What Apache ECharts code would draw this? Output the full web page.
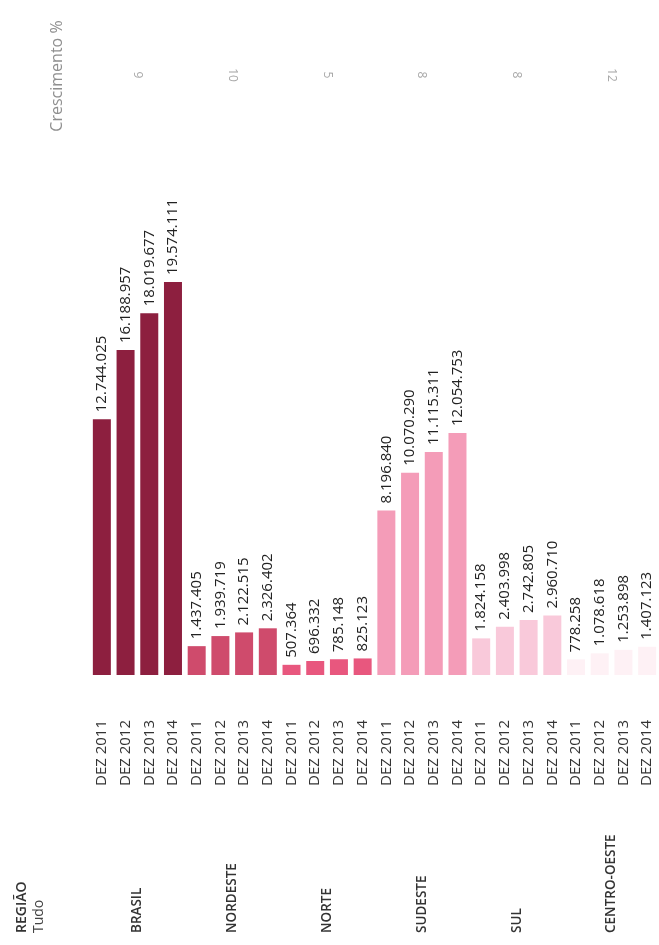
<!DOCTYPE html>
<html>
<head>
<meta charset="utf-8">
<style>
  html, body { margin: 0; padding: 0; background: #ffffff; }
  #chart { width: 659px; height: 945px; }
</style>
<script src="https://cdn.jsdelivr.net/npm/echarts@6/dist/echarts.min.js"></script>
</head>
<body>
<div id="chart"></div>
<script>
// Regiões, períodos e crescimento percentual
const regioes = ['BRASIL', 'NORDESTE', 'NORTE', 'SUDESTE', 'SUL', 'CENTRO-OESTE'];
const periodos = ['DEZ 2011', 'DEZ 2012', 'DEZ 2013', 'DEZ 2014'];
const crescimento = ['9', '10', '5', '8', '8', '12'];

// Valores por região (DEZ 2011 a DEZ 2014)
const brasil      = [12744025, 16188957, 18019677, 19574111];
const nordeste    = [1437405, 1939719, 2122515, 2326402];
const norte       = [507364, 696332, 785148, 825123];
const sudeste     = [8196840, 10070290, 11115311, 12054753];
const sul         = [1824158, 2403998, 2742805, 2960710];
const centroOeste = [778258, 1078618, 1253898, 1407123];

const coresRegiao = ['#8d1f3f', '#cf4b6c', '#e8577e', '#f49cb8', '#f9c9da', '#fef1f5'];

const grupos = [brasil, nordeste, norte, sudeste, sul, centroOeste];
const categorias = [];
const valores = [];
grupos.forEach(function (g, gi) {
  g.forEach(function (v, pi) {
    categorias.push(periodos[pi]);
    valores.push({ value: v, itemStyle: { color: coresRegiao[gi] } });
  });
});

function formatar(v) {
  return String(v).replace(/\B(?=(\d{3})+(?!\d))/g, '.');
}

const FONTE = '"Open Sans", "Noto Sans", sans-serif';

const chart = echarts.init(document.getElementById('chart'), null, { renderer: 'canvas' });
chart.setOption({
  backgroundColor: '#ffffff',
  animation: false,
  textStyle: { fontFamily: FONTE },
  grid: { left: 90, width: 572, top: 113, bottom: 270, containLabel: false },
  xAxis: [
    {
      type: 'category',
      data: categorias,
      position: 'bottom',
      axisLine: { show: false },
      axisTick: { show: false },
      axisLabel: {
        rotate: 90, margin: 45, interval: 0,
        fontSize: 15, color: '#333333', fontFamily: FONTE
      }
    },
    {
      type: 'category',
      data: regioes,
      position: 'bottom',
      axisLine: { show: false },
      axisTick: { show: false },
      axisLabel: {
        rotate: 90, margin: 258, interval: 0, align: 'left',
        fontSize: 13.5, fontWeight: 600, color: '#333333', fontFamily: FONTE
      }
    },
    {
      type: 'category',
      data: crescimento,
      position: 'top',
      axisLine: { show: false },
      axisTick: { show: false },
      axisLabel: {
        rotate: 90, margin: 38, interval: 0, align: 'center', verticalAlign: 'middle',
        fontSize: 12, color: '#a8a8a8', fontFamily: FONTE
      }
    }
  ],
  yAxis: {
    type: 'value', min: 0, max: 28000000,
    show: false, splitLine: { show: false }
  },
  series: [{
    type: 'bar',
    xAxisIndex: 0,
    data: valores,
    barWidth: 18,
    label: {
      show: true,
      position: 'top',
      rotate: 90,
      align: 'left',
      verticalAlign: 'middle',
      distance: 7,
      fontSize: 15,
      color: '#222222',
      fontFamily: FONTE,
      formatter: function (p) { return formatar(p.value); }
    }
  }],
  graphic: [
    {
      type: 'text', x: 57, y: 76, rotation: Math.PI / 2,
      style: { text: 'Crescimento %', fill: '#8f8f8f', font: '16px ' + FONTE, textAlign: 'center', textVerticalAlign: 'middle' }
    },
    {
      type: 'text', x: 22, y: 933, rotation: Math.PI / 2,
      style: { text: 'REGIÃO', fill: '#333333', font: '600 14px ' + FONTE, textAlign: 'left', textVerticalAlign: 'middle' }
    },
    {
      type: 'text', x: 39, y: 933, rotation: Math.PI / 2,
      style: { text: 'Tudo', fill: '#444444', font: '14px ' + FONTE, textAlign: 'left', textVerticalAlign: 'middle' }
    }
  ]
});
</script>
</body>
</html>
